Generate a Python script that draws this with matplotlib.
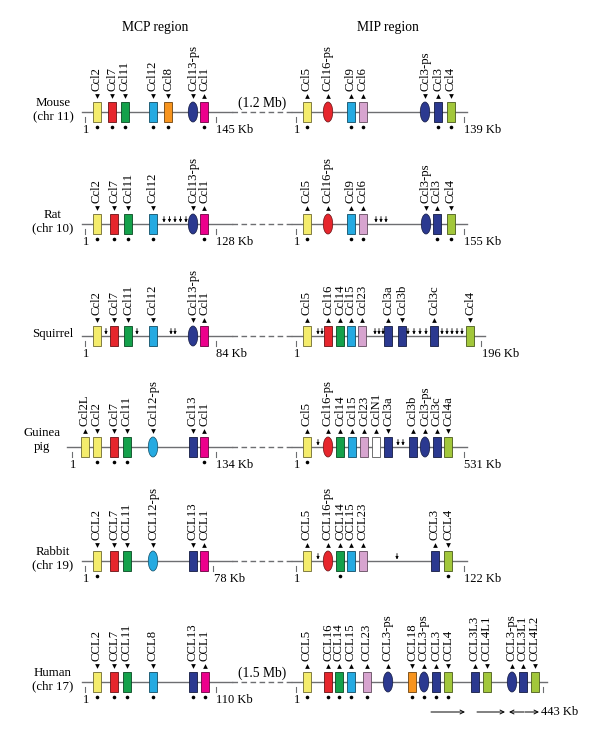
import matplotlib
matplotlib.use("Agg")
from matplotlib import pyplot as plt
from matplotlib.patches import Rectangle, Ellipse
from matplotlib import colors as mcolors

plt.rcParams['font.family'] = ['Liberation Serif', 'DejaVu Serif']

# gene family colours
gene_colors = {
    "Ccl2": "#f4ec6c", "Ccl2L": "#f4ec6c", "Ccl5": "#f4ec6c",
    "Ccl7": "#e6262d", "Ccl16": "#e6262d",
    "Ccl11": "#14a14b", "Ccl14": "#14a14b",
    "Ccl12": "#25aae1", "Ccl9": "#25aae1", "Ccl15": "#25aae1", "CCL8": "#25aae1",
    "Ccl8": "#f7941e", "CCL18": "#f7941e",
    "Ccl13": "#2b3990", "Ccl3": "#2b3990", "Ccl3a": "#2b3990", "Ccl3b": "#2b3990",
    "Ccl3c": "#2b3990", "CCL3L3": "#2b3990", "CCL3L1": "#2b3990",
    "Ccl1": "#ec008c",
    "Ccl6": "#d7a4cf", "Ccl23": "#d7a4cf",
    "Ccl4": "#a2c73b", "Ccl4a": "#a2c73b", "CCL4L1": "#a2c73b", "CCL4L2": "#a2c73b",
    "CclN1": "#ffffff",
}

species = ["Mouse\n(chr 11)", "Rat\n(chr 10)", "Squirrel", "Guinea\npig",
           "Rabbit\n(chr 19)", "Human\n(chr 17)"]
mcp_size = ["145 Kb", "128 Kb", "84 Kb", "134 Kb", "78 Kb", "110 Kb"]
mip_size = ["139 Kb", "155 Kb", "196 Kb", "531 Kb", "122 Kb", "443 Kb"]
gap_text = ["(1.2 Mb)", "", "", "", "", "(1.5 Mb)"]

# MCP region (map position, strand v/^, dot 1/0)
mouse_mcp = ["Ccl2", "Ccl7", "Ccl11", "Ccl12", "Ccl8", "Ccl13-ps", "Ccl1"]
mouse_mcp_pos = [12, 27, 40, 68, 83, 108, 119]
mouse_mcp_strand = "vvvvvv^"
mouse_mcp_dot = "1111101"
mouse_mcp_small = []

rat_mcp = ["Ccl2", "Ccl7", "Ccl11", "Ccl12", "Ccl13-ps", "Ccl1"]
rat_mcp_pos = [12, 29, 43, 68, 108, 119]
rat_mcp_strand = "vvvvv^"
rat_mcp_dot = "111101"
rat_mcp_small = [79, 84.5, 90, 95.5, 101]

squirrel_mcp = ["Ccl2", "Ccl7", "Ccl11", "Ccl12", "Ccl13-ps", "Ccl1"]
squirrel_mcp_pos = [12, 29, 43, 68, 108, 119]
squirrel_mcp_strand = "vvvvv^"
squirrel_mcp_dot = "000000"
squirrel_mcp_small = [21, 52, 86, 90]

guinea_mcp = ["Ccl2L", "Ccl2", "Ccl7", "Ccl11", "Ccl12-ps", "Ccl13", "Ccl1"]
guinea_mcp_pos = [0, 12, 29, 42, 68, 108, 119]
guinea_mcp_strand = "^vvvvv^"
guinea_mcp_dot = "0111001"
guinea_mcp_small = []

rabbit_mcp = ["CCL2", "CCL7", "CCL11", "CCL12-ps", "CCL13", "CCL1"]
rabbit_mcp_pos = [12, 29, 42, 68, 108, 119]
rabbit_mcp_strand = "vvvvv^"
rabbit_mcp_dot = "100000"
rabbit_mcp_small = []

human_mcp = ["CCL2", "CCL7", "CCL11", "CCL8", "CCL13", "CCL1"]
human_mcp_pos = [12, 29, 42, 68, 108, 120]
human_mcp_strand = "vvvvv^"
human_mcp_dot = "111111"
human_mcp_small = []

# MIP region
mouse_mip = ["Ccl5", "Ccl16-ps", "Ccl9", "Ccl6", "Ccl3-ps", "Ccl3", "Ccl4"]
mouse_mip_pos = [11, 32, 55, 67, 129, 142, 155]
mouse_mip_strand = "^^^^v^v"
mouse_mip_dot = "1011011"
mouse_mip_small = []

rat_mip = ["Ccl5", "Ccl16-ps", "Ccl9", "Ccl6", "Ccl3-ps", "Ccl3", "Ccl4"]
rat_mip_pos = [11, 32, 55, 67, 130, 141, 155]
rat_mip_strand = "^^^^v^v"
rat_mip_dot = "1011011"
rat_mip_small = [80, 85, 90]

squirrel_mip = ["Ccl5", "Ccl16", "Ccl14", "Ccl15", "Ccl23", "Ccl3a", "Ccl3b", "Ccl3c", "Ccl4"]
squirrel_mip_pos = [11, 32, 44, 55, 66, 92, 106, 138, 174]
squirrel_mip_strand = "^^^^^^v^v"
squirrel_mip_dot = "000000000"
squirrel_mip_small = [22, 26, 79, 83, 87, 112, 118, 124, 130, 146, 151, 156, 161, 166]

guinea_mip = ["Ccl5", "Ccl16-ps", "Ccl14", "Ccl15", "Ccl23", "CclN1", "Ccl3a",
              "Ccl3b", "Ccl3-ps", "Ccl3c", "Ccl4a"]
guinea_mip_pos = [11, 32, 44, 56, 68, 80, 92, 117, 129, 141, 152]
guinea_mip_strand = "^^^^^^v^^^v"
guinea_mip_dot = "10000000000"
guinea_mip_small = [22, 102, 107]

rabbit_mip = ["CCL5", "CCL16-ps", "CCL14", "CCL15", "CCL23", "CCL3", "CCL4"]
rabbit_mip_pos = [11, 32, 44, 55, 67, 139, 152]
rabbit_mip_strand = "^^^^^^v"
rabbit_mip_dot = "0010001"
rabbit_mip_small = [22, 101]

human_mip = ["CCL5", "CCL16", "CCL14", "CCL15", "CCL23", "CCL3-ps", "CCL18", "CCL3-ps",
             "CCL3", "CCL4", "CCL3L3", "CCL4L1", "CCL3-ps", "CCL3L1", "CCL4L2"]
human_mip_pos = [11, 32, 43, 55, 71, 92, 116, 128, 140, 152, 179, 191, 216, 227, 239]
human_mip_strand = "^^^^^^v^^v^v^^v"
human_mip_dot = "111110111100000"
human_mip_small = []

# human duplication arrows (start, end)
human_dup = [(135, 169), (181, 209), (228, 213), (229, 243)]

mcp_rows = [
    (mouse_mcp, mouse_mcp_pos, mouse_mcp_strand, mouse_mcp_dot, mouse_mcp_small),
    (rat_mcp, rat_mcp_pos, rat_mcp_strand, rat_mcp_dot, rat_mcp_small),
    (squirrel_mcp, squirrel_mcp_pos, squirrel_mcp_strand, squirrel_mcp_dot, squirrel_mcp_small),
    (guinea_mcp, guinea_mcp_pos, guinea_mcp_strand, guinea_mcp_dot, guinea_mcp_small),
    (rabbit_mcp, rabbit_mcp_pos, rabbit_mcp_strand, rabbit_mcp_dot, rabbit_mcp_small),
    (human_mcp, human_mcp_pos, human_mcp_strand, human_mcp_dot, human_mcp_small),
]
mip_rows = [
    (mouse_mip, mouse_mip_pos, mouse_mip_strand, mouse_mip_dot, mouse_mip_small),
    (rat_mip, rat_mip_pos, rat_mip_strand, rat_mip_dot, rat_mip_small),
    (squirrel_mip, squirrel_mip_pos, squirrel_mip_strand, squirrel_mip_dot, squirrel_mip_small),
    (guinea_mip, guinea_mip_pos, guinea_mip_strand, guinea_mip_dot, guinea_mip_small),
    (rabbit_mip, rabbit_mip_pos, rabbit_mip_strand, rabbit_mip_dot, rabbit_mip_small),
    (human_mip, human_mip_pos, human_mip_strand, human_mip_dot, human_mip_small),
]

# layout
row_y = [112, 224, 336, 447, 561, 682]
MCP_X0 = 85
MIP_X0 = 296
mcp_line = [(-3, 147)] * 3 + [(-18, 147)] + [(-3, 147)] * 2
mcp_tick = [(0, 131)] * 3 + [(-13, 131)] + [(0, 128), (0, 131)]
mip_end = [171, 171, 189, 171, 171, 251]
mip_tick = [168, 168, 185, 168, 168, 247]
# where the end label sits (dx from end tick, dy below line)
mip_label_off = [(0.5, 18)] * 5 + [(-2, 30)]
LINE_C = "#6d6e71"


def color_of(name):
    base = name.replace("-ps", "")
    if base in gene_colors:
        return gene_colors[base]
    return gene_colors.get(base[:3].capitalize() + base[3:].lower(),
                           gene_colors.get(base.capitalize(), "#cccccc"))


def draw_region(ax, y, x0, genes, pos, strand, dot, small, line, ticks, size_txt,
                lab_off=(0.5, 18)):
    ax.plot([x0 + line[0], x0 + line[1]], [y, y], color=LINE_C, lw=1.0, zorder=1)
    for t in ticks:
        ax.plot([x0 + t, x0 + t], [y + 5, y + 10], color=LINE_C, lw=0.8)
    ax.text(x0 + ticks[0] + 1.5, y + 18, "1", fontsize=9, ha="center", va="center")
    ax.text(x0 + ticks[1] + lab_off[0], y + lab_off[1], size_txt, fontsize=9,
            ha="left", va="center")
    for g, p, s, d in zip(genes, pos, strand, dot):
        x = x0 + p
        fc = color_of(g)
        ec = tuple(c * 0.45 for c in mcolors.to_rgb(fc)) if fc != "#ffffff" else "0.35"
        if g.endswith("-ps"):
            ax.add_patch(Ellipse((x, y), 9.5, 20, facecolor=fc, edgecolor=ec, lw=0.5, zorder=3))
        else:
            ax.add_patch(Rectangle((x - 4.3, y - 10), 8.6, 20, facecolor=fc, edgecolor=ec,
                                   lw=0.6, zorder=3))
        ax.plot(x, y - 16, marker=s, ms=3.4, color="black", mew=0, zorder=4)
        ax.text(x, y - 21, g, rotation=90, fontsize=9.2, ha="center", va="bottom")
        if d == "1":
            ax.plot(x, y + 15, marker="o", ms=2.6, color="black", mew=0)
    for sx in small:
        ax.annotate("", xy=(x0 + sx, y - 1.5), xytext=(x0 + sx, y - 7.5),
                    arrowprops=dict(arrowstyle="-|>", lw=0.6, color="black",
                                    mutation_scale=4, shrinkA=0, shrinkB=0))


fig = plt.figure(figsize=(6.0, 7.37), dpi=100)
ax = fig.add_axes([0, 0, 1, 1])
ax.set_xlim(0, 600)
ax.set_ylim(737, 0)
ax.axis("off")

ax.text(155, 27, "MCP region", fontsize=9.8, ha="center", va="center")
ax.text(388, 27, "MIP region", fontsize=9.8, ha="center", va="center")

for i, y in enumerate(row_y):
    lab_x, lab_y = (42, y - 7) if i == 3 else (53, y - 2)
    ax.text(lab_x, lab_y, species[i], fontsize=9.3, ha="center", va="center",
            linespacing=1.15)
    draw_region(ax, y, MCP_X0, *mcp_rows[i], mcp_line[i], mcp_tick[i], mcp_size[i])
    draw_region(ax, y, MIP_X0, *mip_rows[i], (-4, mip_end[i]), (0, mip_tick[i]),
                mip_size[i], mip_label_off[i])
    # dashed connector between the two regions
    ax.plot([MCP_X0 + 147, MIP_X0 - 4], [y, y], color=LINE_C, lw=1.0,
            linestyle=(0, (4, 2.5)), zorder=1)
    if gap_text[i]:
        ax.text(262, y - 9, gap_text[i], fontsize=9.8, ha="center", va="center")

# duplication arrows under the human MIP region
hy = row_y[5] + 30
for a, b in human_dup:
    ax.annotate("", xy=(MIP_X0 + b, hy), xytext=(MIP_X0 + a, hy),
                arrowprops=dict(arrowstyle="->", lw=0.7, color="black",
                                mutation_scale=7, shrinkA=0, shrinkB=0))

fig.savefig("out.png", dpi=100)
